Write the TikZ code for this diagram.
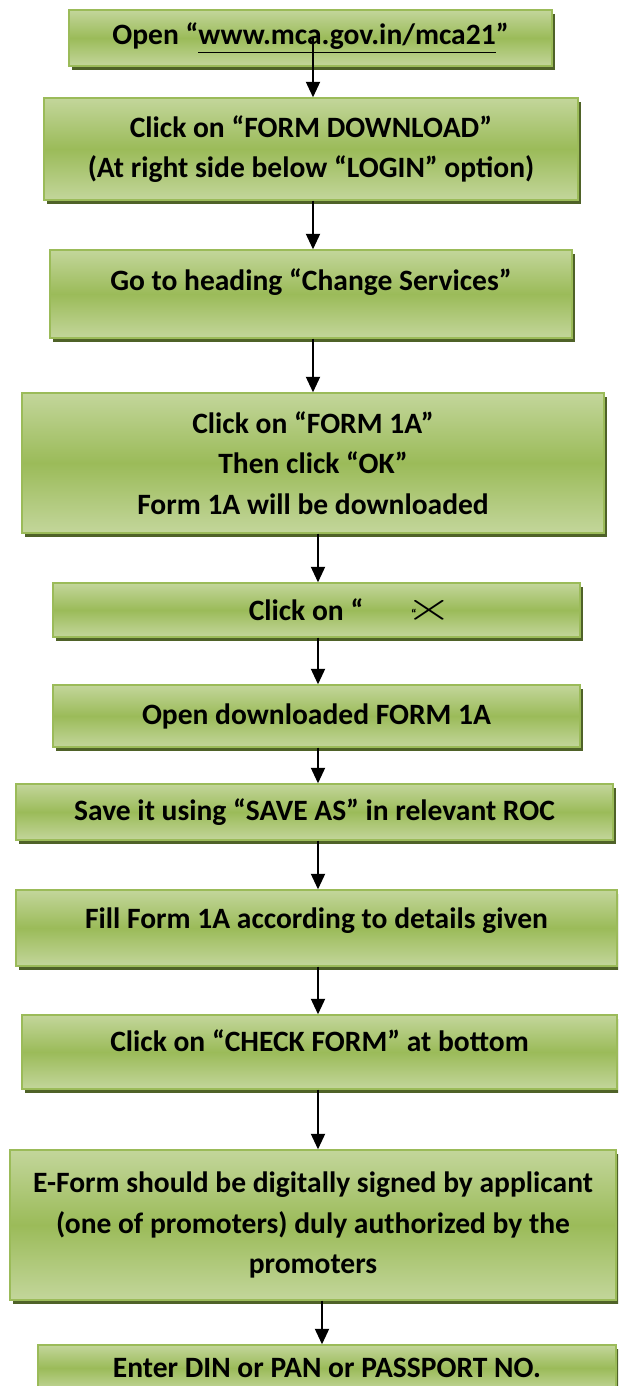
\documentclass[tikz,border=0pt]{standalone}
\usepackage{fontspec}
\setmainfont{Carlito}
\usepackage{graphicx}
\usetikzlibrary{arrows.meta,shadows}

\definecolor{lightolive}{HTML}{C3D69B}
\definecolor{midolive}{HTML}{9BBB59}
\definecolor{darkolive}{HTML}{4F6228}

\tikzset{
	stepbox/.style={rectangle, draw=midolive, line width=1pt, inner sep=0pt, align=center,
		top color=lightolive, bottom color=lightolive, middle color=midolive,
		drop shadow={shadow xshift=0.08cm, shadow yshift=-0.1cm, fill=darkolive, opacity=1},
		font=\fontsize{21}{29}\selectfont\bfseries},
	flow/.style={-{Triangle[width=10pt,length=11pt]}, line width=1.2pt, black}
}

\begin{document}
\begin{tikzpicture}[x=0.025cm, y=-0.025cm]
		
		\useasboundingbox (0,0) rectangle (618,1386);
		\clip (0,0) rectangle (618,1386);
		
		% Cajas de los pasos
		\node[stepbox, minimum width=12.075cm, minimum height=1.4cm] (open) at (310.5,38) {Open “\underline{www.mca.gov.in/mca21}”};
		\node[stepbox, minimum width=13.35cm, minimum height=2.55cm] (download) at (311,149) {Click on “FORM DOWNLOAD”\\(At right side below “LOGIN” option)};
		\node[stepbox, minimum width=13.05cm, minimum height=2.2cm, text depth=21pt] (heading) at (311,294) {Go to heading “Change Services”};
		\node[stepbox, minimum width=14.55cm, minimum height=3.5cm] (formone) at (313,463) {Click on “FORM 1A”\\Then click “OK”\\Form 1A will be downloaded};
		\node[stepbox, minimum width=13.175cm, minimum height=1.35cm] (click) at (316.5,610) {\hspace*{49pt}Click on “\hspace{34pt}\rlap{\raisebox{1pt}{\fontsize{9}{9}\selectfont“}}\hspace{-4pt}\scalebox{2.1}[1.4]{\mdseries$\times$}};
		\node[stepbox, minimum width=13.175cm, minimum height=1.55cm] (opendl) at (316.5,716) {Open downloaded FORM 1A};
		\node[stepbox, minimum width=14.925cm, minimum height=1.4cm] (save) at (314.5,812) {Save it using “SAVE AS” in relevant ROC};
		\node[stepbox, minimum width=15.025cm, minimum height=1.9cm, text depth=14pt] (fill) at (316.5,928) {Fill Form 1A according to details given};
		\node[stepbox, minimum width=14.875cm, minimum height=1.85cm, text depth=16pt] (check) at (319.5,1052) {Click on “CHECK FORM” at bottom};
		\node[stepbox, minimum width=15.15cm, minimum height=3.75cm] (sign) at (313,1225) {E-Form should be digitally signed by applicant\\(one of promoters) duly authorized by the\\promoters};
		\node[stepbox, minimum width=14.45cm, minimum height=1.15cm] (din) at (327,1368) {Enter DIN or PAN or PASSPORT NO.};
		
		% Columna de las flechas
		\coordinate (colA) at (313,0);
		\coordinate (colB) at (318,0);
		\coordinate (colC) at (322,0);
		
		\draw[flow] (open.center -| colA) -- (download.north -| colA);
		\draw[flow] (download.south -| colA) -- (heading.north -| colA);
		\draw[flow] (heading.south -| colA) -- (formone.north -| colA);
		\draw[flow] (formone.south -| colB) -- (click.north -| colB);
		\draw[flow] (click.south -| colB) -- (opendl.north -| colB);
		\draw[flow] (opendl.south -| colB) -- (save.north -| colB);
		\draw[flow] (save.south -| colB) -- (fill.north -| colB);
		\draw[flow] (fill.south -| colB) -- (check.north -| colB);
		\draw[flow] (check.south -| colB) -- (sign.north -| colB);
		\draw[flow] (sign.south -| colC) -- (din.north -| colC);
	\end{tikzpicture}
\end{document}
